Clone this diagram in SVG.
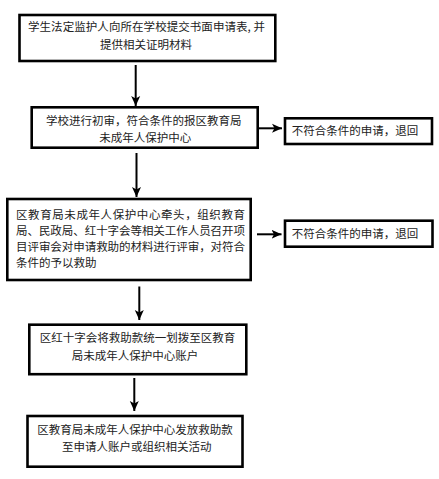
<svg xmlns="http://www.w3.org/2000/svg" width="439" height="479" viewBox="0 0 439 479">
<defs>
<style>
.box{fill:#fff;stroke:#000;stroke-width:2.6}
.t{font-family:"Noto Sans CJK SC","Liberation Sans",sans-serif;font-size:11.5px;fill:#222}
.c{text-anchor:middle}
.conn{stroke:#000;stroke-width:2;fill:none}
</style>
<marker id="ah" markerUnits="userSpaceOnUse" markerWidth="10" markerHeight="10" refX="10" refY="5" orient="auto" viewBox="0 0 10 10">
<path d="M0,0.5 L10,5 L0,9.5 L2.5,5 z" fill="#000"/>
</marker>
</defs>
<rect width="439" height="479" fill="#fff"/>
<g id="connectors">
<line class="conn" x1="135.7" y1="65" x2="135.7" y2="106" marker-end="url(#ah)"/>
<line class="conn" x1="136.5" y1="153" x2="136.5" y2="197" marker-end="url(#ah)"/>
<line class="conn" x1="139.3" y1="286.5" x2="139.3" y2="320" marker-end="url(#ah)"/>
<line class="conn" x1="134.3" y1="378" x2="134.3" y2="411" marker-end="url(#ah)"/>
<line class="conn" x1="258" y1="128.3" x2="282" y2="128.3" marker-end="url(#ah)"/>
<line class="conn" x1="257" y1="234.3" x2="281.5" y2="234.3" marker-end="url(#ah)"/>
</g>
<g id="n1">
<rect class="box" x="19.5" y="15" width="255.8" height="46"/>
<text class="t c" x="146.5" y="31" textLength="237" lengthAdjust="spacing">学生法定监护人向所在学校提交书面申请表, 并</text>
<text class="t c" x="146" y="48.7">提供相关证明材料</text>
</g>
<g id="n2">
<rect class="box" x="31.7" y="107.3" width="226" height="40.4"/>
<text class="t c" x="143.8" y="125.4">学校进行初审，符合条件的报区教育局</text>
<text class="t c" x="145.3" y="141.7">未成年人保护中心</text>
</g>
<g id="n2r">
<rect class="box" x="285" y="118.3" width="147" height="25.7"/>
<text class="t" x="291.7" y="134.6">不符合条件的申请，退回</text>
</g>
<g id="n3">
<rect class="box" x="7.3" y="199" width="243.4" height="81"/>
<text class="t" x="16" y="218.6" textLength="229" lengthAdjust="spacing">区教育局未成年人保护中心牵头，组织教育</text>
<text class="t" x="16" y="234.7" textLength="229" lengthAdjust="spacing">局、民政局、红十字会等相关工作人员召开项</text>
<text class="t" x="16" y="250.8" textLength="229" lengthAdjust="spacing">目评审会对申请救助的材料进行评审，对符合</text>
<text class="t" x="16" y="266.9">条件的予以救助</text>
</g>
<g id="n3r">
<rect class="box" x="285" y="220.7" width="147.5" height="26"/>
<text class="t" x="291.7" y="237.7">不符合条件的申请，退回</text>
</g>
<g id="n4">
<rect class="box" x="29.3" y="324.7" width="217" height="49.5"/>
<text class="t c" x="137.5" y="342.4">区红十字会将救助款统一划拨至区教育</text>
<text class="t c" x="135" y="359.9">局未成年人保护中心账户</text>
</g>
<g id="n5">
<rect class="box" x="27.5" y="416" width="215" height="50.7"/>
<text class="t c" x="135" y="433.7">区教育局未成年人保护中心发放救助款</text>
<text class="t c" x="136.8" y="451.4">至申请人账户或组织相关活动</text>
</g>
</svg>
